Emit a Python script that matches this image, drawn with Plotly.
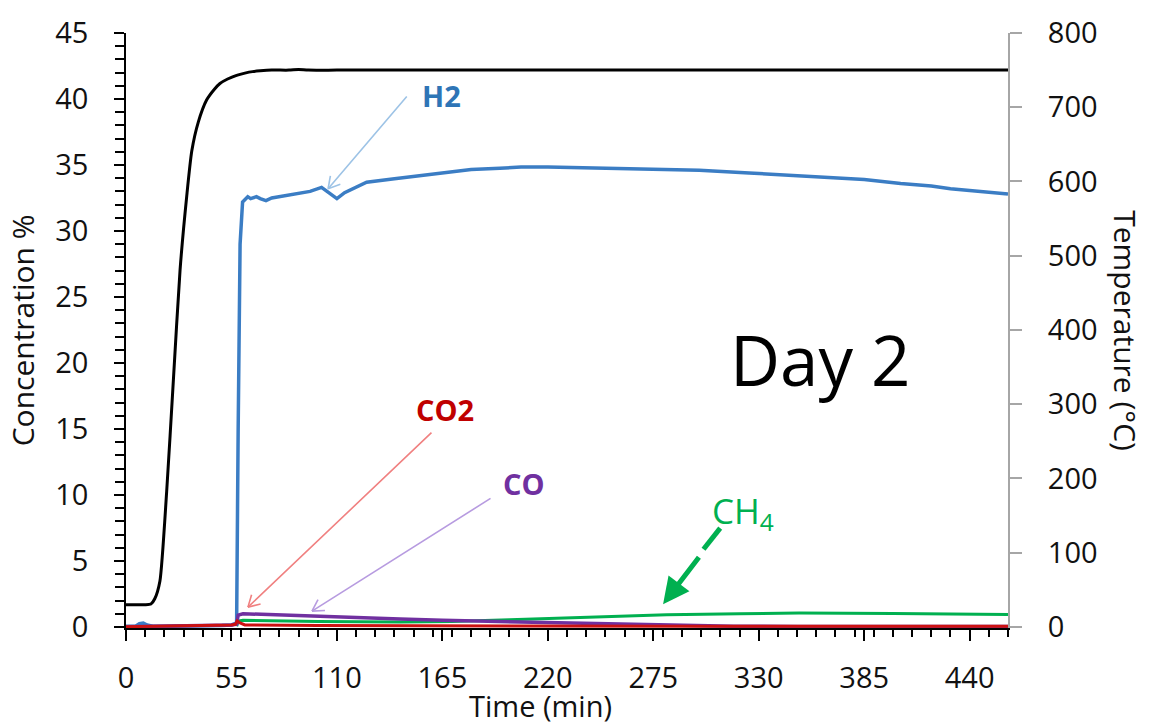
import math
import plotly.graph_objects as go

# ---------------- data ----------------
time_temp = [0, 5, 10, 13, 15, 17.7, 21.2, 24.7, 28.2, 31.7, 34.3, 37.7, 42.1, 46, 49, 53,
             57.7, 62, 66, 70, 76, 85, 90, 95, 110, 150, 200, 250, 300, 350, 400, 460]
temperature = [30, 30, 30, 31, 38, 62, 182, 332, 481, 581, 641, 680, 710, 724, 732, 738,
               743, 746, 748, 749, 750, 750, 751, 750, 750, 750, 750, 750, 750, 750, 750, 750]

time_h2 = [0, 5, 7, 9, 11, 14, 20, 30, 40, 50, 55, 57.7, 58.5, 59.5, 60.8, 62, 63.5, 65, 68, 70,
           73, 76, 80, 85, 91, 96, 102, 106, 110, 114, 120, 125.5, 140, 154, 168, 180, 195,
           206, 220, 233, 259, 280, 299, 325, 345, 364, 385, 404, 420, 430, 445, 460]
h2 = [0.05, 0.05, 0.25, 0.3, 0.15, 0.05, 0.05, 0.05, 0.05, 0.1, 0.15, 0.3, 15, 29, 32.2, 32.4,
      32.6, 32.45, 32.6, 32.45, 32.3, 32.5, 32.6, 32.7, 32.9, 33.0, 33.3, 32.9, 32.45, 32.9,
      33.3, 33.7, 33.95, 34.2, 34.45, 34.65, 34.75, 34.85, 34.85, 34.8, 34.7, 34.65, 34.6,
      34.4, 34.25, 34.1, 33.9, 33.6, 33.4, 33.2, 33.0, 32.8]

time_co = [0, 20, 40, 55, 57.7, 58.5, 61, 70, 80, 100, 120, 143, 165, 190, 220, 247, 265,
           282, 300, 317, 350, 400, 460]
co = [0.02, 0.05, 0.1, 0.15, 0.2, 0.9, 1.0, 0.95, 0.9, 0.8, 0.7, 0.6, 0.5, 0.42, 0.33, 0.25,
      0.17, 0.1, 0.07, 0.05, 0.04, 0.03, 0.03]

time_ch4 = [57.7, 58.5, 61, 80, 100, 143, 170, 200, 220, 247, 282, 320, 351, 400, 430, 460]
ch4 = [0.05, 0.45, 0.5, 0.45, 0.42, 0.38, 0.42, 0.55, 0.65, 0.8, 0.92, 1.0, 1.05, 1.02, 0.98, 0.95]

time_co2 = [0, 20, 40, 55, 57, 58, 59.5, 62, 100, 200, 300, 460]
co2 = [0.02, 0.05, 0.1, 0.15, 0.2, 0.45, 0.3, 0.15, 0.1, 0.07, 0.05, 0.05]

x_ticks = [0, 55, 110, 165, 220, 275, 330, 385, 440]
x_tick_labels = [str(v) for v in x_ticks]

FONT = "Open Sans"
TXT = "#111111"

X_RANGE = [0, 460]
Y_RANGE = [-0.08, 45]
PLOT_W, PLOT_H = 882, 601
SX = PLOT_W / (X_RANGE[1] - X_RANGE[0])
SY = PLOT_H / (Y_RANGE[1] - Y_RANGE[0])

fig = go.Figure()
fig.add_trace(go.Scatter(x=time_temp, y=temperature, yaxis="y2", mode="lines",
                         line=dict(color="#000000", width=3, shape="spline", smoothing=0.6),
                         name="Temperature"))
fig.add_trace(go.Scatter(x=time_h2, y=h2, mode="lines",
                         line=dict(color="#3B7DC4", width=3.5), name="H2"))
fig.add_trace(go.Scatter(x=time_ch4, y=ch4, mode="lines",
                         line=dict(color="#00B050", width=3), name="CH4"))
fig.add_trace(go.Scatter(x=time_co, y=co, mode="lines",
                         line=dict(color="#7030A0", width=3.5), name="CO"))
fig.add_trace(go.Scatter(x=time_co2, y=co2, mode="lines",
                         line=dict(color="#CC1111", width=3), name="CO2"))

ann = []
shapes = []
# series labels
ann.append(dict(x=164.3, y=40.3, text="<b>H2</b>", showarrow=False,
                font=dict(family=FONT, size=29, color="#2E75B6")))
ann.append(dict(x=166.4, y=16.5, text="<b>CO2</b>", showarrow=False,
                font=dict(family=FONT, size=29, color="#C00000")))
ann.append(dict(x=207.6, y=10.9, text="<b>CO</b>", showarrow=False,
                font=dict(family=FONT, size=29, color="#7030A0")))
ann.append(dict(x=321.9, y=8.7, text="CH<sub>4</sub>", showarrow=False,
                font=dict(family=FONT, size=35, color="#00B050")))
ann.append(dict(x=362, y=20.3, text="Day 2", showarrow=False,
                font=dict(family=FONT, size=69, color="#000000")))


def thin_arrow(x_tail, y_tail, x_head, y_head, color, width=1.6, head_len=13, angle=30):
    # shaft
    ann.append(dict(x=x_head, y=y_head, ax=x_tail, ay=y_tail, xref="x", yref="y",
                    axref="x", ayref="y", text="", showarrow=True, arrowhead=0,
                    arrowwidth=width, arrowcolor=color))
    # open "V" head drawn as two short strokes (pixel offsets from the tip)
    dx = (x_tail - x_head) * SX
    dy = (y_tail - y_head) * SY
    n = math.hypot(dx, dy)
    ux, uy = dx / n, dy / n
    for s in (-1, 1):
        a = math.radians(angle * s)
        wx = (ux * math.cos(a) - uy * math.sin(a)) * head_len
        wy = (ux * math.sin(a) + uy * math.cos(a)) * head_len
        shapes.append(dict(type="line", xref="x", yref="y", xsizemode="pixel",
                           ysizemode="pixel", xanchor=x_head, yanchor=y_head,
                           x0=0, y0=0, x1=wx, y1=wy,
                           line=dict(color=color, width=width)))


thin_arrow(147.1, 40.3, 105.4, 33.2, "#9DC3E6")
thin_arrow(160.1, 14.83, 63.6, 1.5, "#F08080")
thin_arrow(190.9, 9.81, 97.0, 1.2, "#B79BE0")

# thick CH4 arrow with a small break in its shaft
shapes.append(dict(type="line", xref="x", yref="y", x0=309.9, y0=7.49, x1=301.2, y1=5.89,
                   line=dict(color="#00B050", width=5)))
ann.append(dict(x=280.1, y=1.72, ax=299.4, ay=5.40, xref="x", yref="y", axref="x", ayref="y",
                text="", showarrow=True, arrowhead=2, arrowsize=1.05, arrowwidth=5,
                arrowcolor="#00B050"))

# axis titles
ann.append(dict(xref="paper", yref="paper", x=-0.117, y=0.5, text="Concentration %",
                textangle=-90, showarrow=False, xanchor="center", yanchor="middle",
                font=dict(family=FONT, size=30, color=TXT)))
ann.append(dict(xref="paper", yref="paper", x=1.133, y=0.5, text="Temperature (°C)",
                textangle=90, showarrow=False, xanchor="center", yanchor="middle",
                font=dict(family=FONT, size=30, color=TXT)))
ann.append(dict(xref="paper", yref="paper", x=0.4705, y=-0.131, text="Time (min)",
                showarrow=False, xanchor="center", yanchor="middle",
                font=dict(family=FONT, size=29, color=TXT)))

fig.update_layout(
    width=1150, height=727, autosize=False,
    margin=dict(l=126, r=142, t=27, b=99, pad=0),
    paper_bgcolor="white", plot_bgcolor="white",
    showlegend=False,
    font=dict(family=FONT, size=29, color=TXT),
    annotations=ann,
    shapes=shapes,
    xaxis=dict(range=X_RANGE, tickmode="array", tickvals=x_ticks, ticktext=x_tick_labels,
               showgrid=False, zeroline=False, showline=True, linecolor="#000000", linewidth=1.5,
               ticks="outside", ticklen=11, tickwidth=1.5, tickcolor="#000000",
               ticklabelstandoff=12,
               minor=dict(ticks="outside", ticklen=7, tickwidth=1.5, tickcolor="#000000",
                          dtick=10, tick0=0, showgrid=False),
               tickfont=dict(family=FONT, size=29, color=TXT)),
    yaxis=dict(range=Y_RANGE, tickmode="linear", tick0=0, dtick=5,
               showgrid=False, zeroline=False, showline=True, linecolor="#000000", linewidth=1.8,
               ticks="outside", ticklen=10, tickwidth=1.5, tickcolor="#000000",
               ticklabelstandoff=20,
               minor=dict(ticks="outside", ticklen=9, tickwidth=1.5, tickcolor="#000000",
                          dtick=1, tick0=0, showgrid=False),
               tickfont=dict(family=FONT, size=29, color=TXT)),
    yaxis2=dict(range=[-1.42, 800], overlaying="y", side="right", tickmode="linear",
                tick0=0, dtick=100, showgrid=False, zeroline=False, showline=True,
                linecolor="#A6A6A6", linewidth=2, ticks="outside", ticklen=12, tickwidth=1.5,
                tickcolor="#A6A6A6", ticklabelstandoff=20,
                tickfont=dict(family=FONT, size=29, color=TXT)),
)

fig.write_html("out.html", config={"displayModeBar": False})
